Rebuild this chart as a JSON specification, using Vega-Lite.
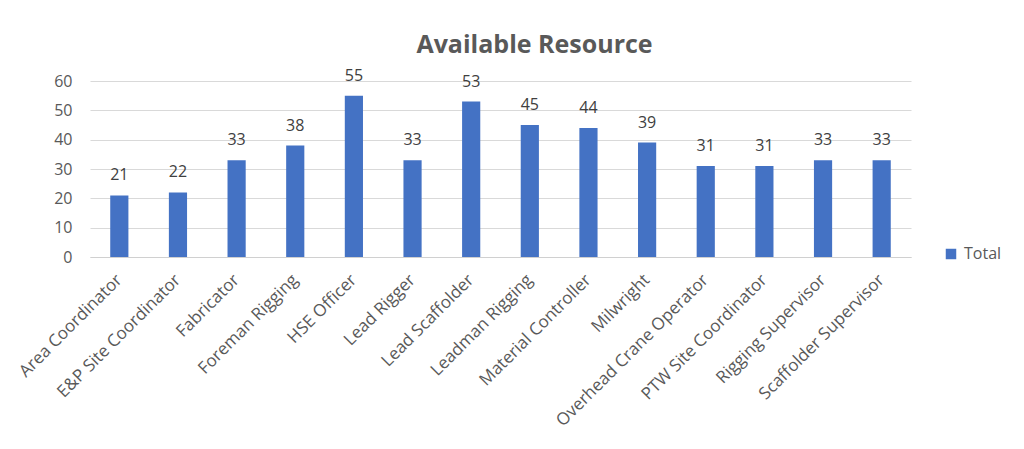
{
  "$schema": "https://vega.github.io/schema/vega-lite/v6.json",
  "description": "Available Resource by role",
  "autosize": "none",
  "width": 821,
  "height": 176,
  "padding": {"left": 90, "top": 81, "right": 113, "bottom": 192},
  "background": "white",
  "title": {
    "text": "Available Resource",
    "font": "Open Sans",
    "fontSize": 25,
    "fontWeight": "bold",
    "color": "#595959",
    "anchor": "middle",
    "dx": 34,
    "offset": 10
  },
  "data": {
    "values": [
      {"role": "Area Coordinator", "total": 21},
      {"role": "E&P Site Coordinator", "total": 22},
      {"role": "Fabricator", "total": 33},
      {"role": "Foreman Rigging", "total": 38},
      {"role": "HSE Officer", "total": 55},
      {"role": "Lead Rigger", "total": 33},
      {"role": "Lead Scaffolder", "total": 53},
      {"role": "Leadman Rigging", "total": 45},
      {"role": "Material Controller", "total": 44},
      {"role": "Milwright", "total": 39},
      {"role": "Overhead Crane Operator", "total": 31},
      {"role": "PTW Site Coordinator", "total": 31},
      {"role": "Rigging Supervisor", "total": 33},
      {"role": "Scaffolder Supervisor", "total": 33}
    ]
  },
  "encoding": {
    "x": {
      "field": "role",
      "type": "nominal",
      "sort": null,
      "title": null,
      "scale": {"paddingInner": 0.69, "paddingOuter": 0.345},
      "axis": {
        "labelAngle": -45,
        "labelAlign": "right",
        "labelBaseline": "middle",
        "labelPadding": 20,
        "labelFontSize": 17,
        "ticks": false,
        "domainColor": "#d0d0d0",
        "labelLimit": 300
      }
    },
    "y": {
      "field": "total",
      "type": "quantitative",
      "title": null,
      "scale": {"domain": [0, 60]},
      "axis": {
        "values": [0, 10, 20, 30, 40, 50, 60],
        "domain": false,
        "ticks": false,
        "labelPadding": 18,
        "labelFontSize": 16,
        "grid": true,
        "gridColor": "#d9d9d9"
      }
    }
  },
  "layer": [
    {
      "mark": {"type": "bar"},
      "encoding": {
        "color": {
          "datum": "Total",
          "scale": {"range": ["#4472C4"]},
          "legend": {
            "title": null,
            "orient": "none",
            "legendX": 853,
            "legendY": 165,
            "symbolType": "square",
            "symbolSize": 110,
            "labelFontSize": 16,
            "labelOffset": 5
          }
        }
      }
    },
    {
      "mark": {
        "type": "text",
        "dy": -15,
        "baseline": "alphabetic",
        "fontSize": 16,
        "font": "Open Sans",
        "color": "#404040"
      },
      "encoding": {"text": {"field": "total", "type": "quantitative"}}
    }
  ],
  "config": {
    "view": {"stroke": null},
    "axis": {"labelFont": "Open Sans", "labelColor": "#595959"},
    "legend": {"labelFont": "Open Sans", "labelColor": "#595959"}
  }
}
